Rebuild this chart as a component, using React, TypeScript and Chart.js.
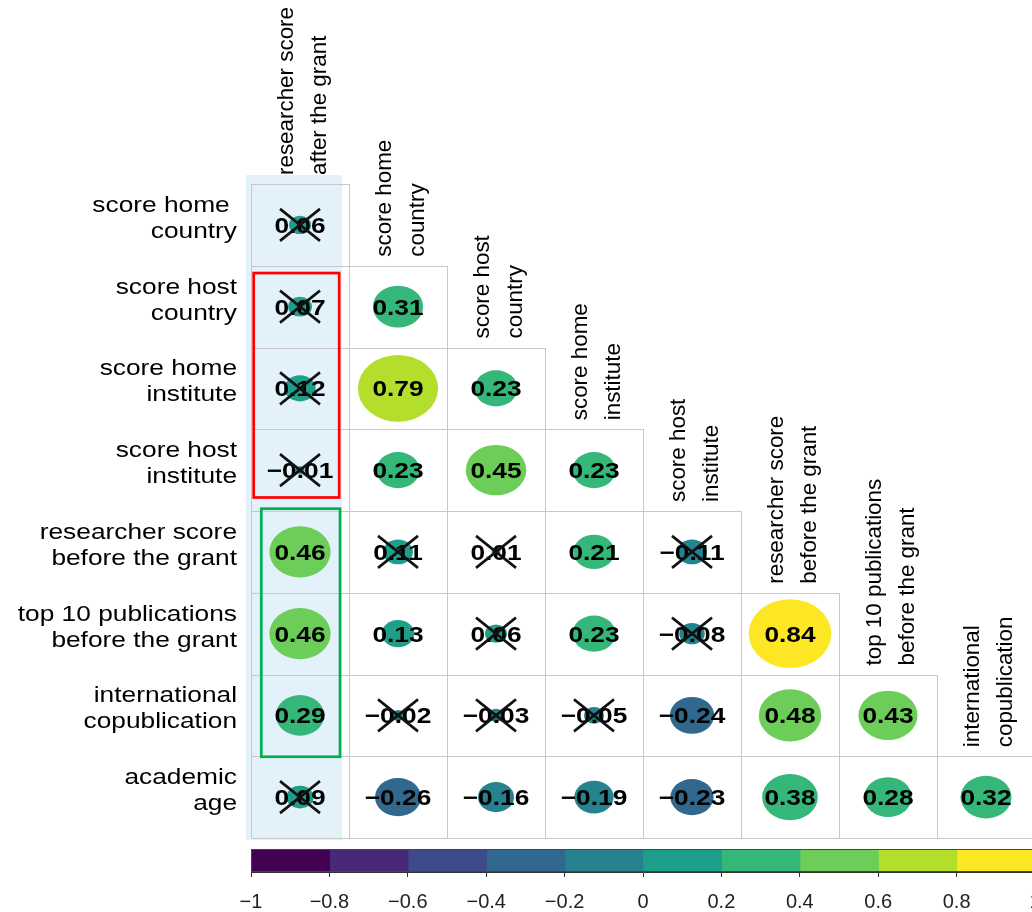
import { useEffect, useRef } from 'react';
import { Chart, registerables } from 'chart.js';

Chart.register(...registerables);

// ---------- data ----------
const rowLabels: string[][] = [
  ['score home ', 'country'],
  ['score host', 'country'],
  ['score home', 'institute'],
  ['score host', 'institute'],
  ['researcher score', 'before the grant'],
  ['top 10 publications', 'before the grant'],
  ['international', 'copublication'],
  ['academic', 'age'],
];

const colLabels: string[][] = [
  ['researcher score', 'after the grant'],
  ['score home', 'country'],
  ['score host', 'country'],
  ['score home', 'institute'],
  ['score host', 'institute'],
  ['researcher score', 'before the grant'],
  ['top 10 publications', 'before the grant'],
  ['international', 'copublication'],
];

// lower-triangle correlations, one list per row
const corrRows: number[][] = [
  [0.06],
  [0.07, 0.31],
  [0.12, 0.79, 0.23],
  [-0.01, 0.23, 0.45, 0.23],
  [0.46, 0.11, 0.01, 0.21, -0.11],
  [0.46, 0.13, 0.06, 0.23, -0.08, 0.84],
  [0.29, -0.02, -0.03, -0.05, -0.24, 0.48, 0.43],
  [0.09, -0.26, -0.16, -0.19, -0.23, 0.38, 0.28, 0.32],
];

// 1 = not significant (crossed out)
const crossedRows: number[][] = [
  [1],
  [1, 0],
  [1, 0, 0],
  [1, 0, 0, 0],
  [0, 1, 1, 0, 1],
  [0, 0, 1, 0, 1, 0],
  [0, 1, 1, 1, 0, 0, 0],
  [1, 0, 0, 0, 0, 0, 0, 0],
];

const colorBreaks: number[] = [-1, -0.8, -0.6, -0.4, -0.2, 0, 0.2, 0.4, 0.6, 0.8, 1];
const binColors: string[] = [
  '#440154', '#482878', '#3E4A89', '#31688E', '#26828E',
  '#1F9E89', '#35B779', '#6DCD59', '#B4DE2C', '#FDE725',
];

// ---------- layout / style ----------
const W = 1045;
const MAIN_H = 845;
const CB_W = 1070;
const CB_TOP = 845;
const CB_H = 67;
const SX = 1.195; // horizontal stretch of the reference
const FONT = "'Liberation Sans', Arial, Helvetica, sans-serif";

const fmtVal = (v: number) => (v < 0 ? '\u2212' : '') + Math.abs(v).toFixed(2);
const fmtTick = (v: number) => {
  const r = Math.round(v * 10) / 10;
  if (r === 0) return '0';
  return (r < 0 ? '\u2212' : '') + String(Math.abs(r));
};
const colorFor = (v: number) => {
  for (let k = 0; k < binColors.length; k++) {
    if (v < colorBreaks[k + 1] || k === binColors.length - 1) return binColors[k];
  }
  return binColors[binColors.length - 1];
};

const corrPlugin = {
  id: 'corrplot',
  beforeDatasetsDraw(chart: any) {
    const { ctx, scales } = chart;
    const X = (v: number) => scales.x.getPixelForValue(v);
    const Y = (v: number) => scales.y.getPixelForValue(v);
    ctx.save();
    // highlighted first column
    const hl = X(0) - 5, hr = X(1) - 7, ht = Y(0) - 9, hb = Y(rowLabels.length) + 2;
    ctx.fillStyle = '#E2F1FA';
    ctx.fillRect(hl, ht, hr - hl, hb - ht);
    // cell grid
    ctx.strokeStyle = '#C8C8C8';
    ctx.lineWidth = 1;
    corrRows.forEach((row, i) => {
      row.forEach((_v, j) => {
        const l = Math.round(X(j)) + 0.5;
        const r = Math.round(X(j + 1)) + 0.5;
        const t = Math.round(Y(i)) + 0.5;
        const b = Math.round(Y(i + 1)) + 0.5;
        ctx.strokeRect(l, t, r - l, b - t);
      });
    });
    ctx.restore();
  },
  afterDatasetsDraw(chart: any) {
    const { ctx, scales } = chart;
    const X = (v: number) => scales.x.getPixelForValue(v);
    const Y = (v: number) => scales.y.getPixelForValue(v);
    const cw = X(1) - X(0);
    const rh = Y(1) - Y(0);
    const meta = chart.getDatasetMeta(0);
    const raw = chart.data.datasets[0].data as any[];
    ctx.save();
    // ellipses
    meta.data.forEach((el: any, k: number) => {
      const p = raw[k];
      const s = 0.92 * Math.sqrt(Math.abs(p.v));
      ctx.beginPath();
      ctx.ellipse(el.x, el.y, (s * cw) / 2, (s * rh) / 2, 0, 0, Math.PI * 2);
      ctx.fillStyle = colorFor(p.v);
      ctx.fill();
    });
    // numbers
    ctx.font = `bold 22px ${FONT}`;
    ctx.textAlign = 'center';
    ctx.textBaseline = 'alphabetic';
    ctx.fillStyle = '#000';
    meta.data.forEach((el: any, k: number) => {
      const p = raw[k];
      ctx.save();
      ctx.translate(el.x, el.y + 8);
      ctx.scale(SX, 1);
      ctx.fillText(fmtVal(p.v), 0, 0);
      ctx.restore();
    });
    // crosses
    ctx.strokeStyle = '#111';
    ctx.lineWidth = 2.6;
    ctx.lineCap = 'butt';
    meta.data.forEach((el: any, k: number) => {
      const p = raw[k];
      if (!p.crossed) return;
      ctx.beginPath();
      ctx.moveTo(el.x - 20, el.y - 16);
      ctx.lineTo(el.x + 20, el.y + 16);
      ctx.moveTo(el.x + 20, el.y - 16);
      ctx.lineTo(el.x - 20, el.y + 16);
      ctx.stroke();
    });
    // red box
    ctx.lineWidth = 2.7;
    ctx.strokeStyle = '#FF0000';
    {
      const l = X(0) + 2.7, r = X(1) - 9.8, t = Y(1) + 7.3, b = Y(4) - 13.5;
      ctx.strokeRect(l, t, r - l, b - t);
    }
    // green box
    ctx.strokeStyle = '#00B050';
    {
      const l = X(0) + 10.3, r = X(1) - 9, t = Y(4) - 2.3, b = Y(7) + 0.5;
      ctx.strokeRect(l, t, r - l, b - t);
    }
    // row labels
    ctx.font = `22px ${FONT}`;
    ctx.fillStyle = '#000';
    ctx.textAlign = 'right';
    rowLabels.forEach((lines, i) => {
      const cy = Y(i + 0.5);
      lines.forEach((line, l) => {
        ctx.save();
        ctx.translate(X(0) - 14, cy + (l === 0 ? -13 : 13));
        ctx.scale(SX, 1);
        ctx.fillText(line, 0, 0);
        ctx.restore();
      });
    });
    // column labels (rotated)
    ctx.font = `22.4px ${FONT}`;
    ctx.textAlign = 'left';
    colLabels.forEach((lines, j) => {
      const cx = X(j + 0.5);
      const bottom = Y(j) - 9;
      lines.forEach((line, l) => {
        ctx.save();
        ctx.translate(cx + (l === 0 ? -7 : 26), bottom);
        ctx.rotate(-Math.PI / 2);
        ctx.fillText(line, 0, 0);
        ctx.restore();
      });
    });
    ctx.restore();
  },
};

const cbBorderPlugin = {
  id: 'cbBorder',
  afterDatasetsDraw(chart: any) {
    const { ctx, chartArea } = chart;
    ctx.save();
    ctx.strokeStyle = '#444';
    ctx.lineWidth = 1;
    const l = Math.round(chartArea.left) + 0.5;
    const r = Math.round(chartArea.right) + 0.5;
    const t = Math.round(chartArea.top) + 0.5;
    const b = Math.round(chartArea.bottom) - 0.5;
    ctx.strokeRect(l, t, r - l, b - t);
    ctx.restore();
  },
};

export default function App() {
  const mainRef = useRef<HTMLCanvasElement | null>(null);
  const cbRef = useRef<HTMLCanvasElement | null>(null);

  useEffect(() => {
    if (!mainRef.current || !cbRef.current) return;

    const points: any[] = [];
    corrRows.forEach((row, i) => {
      row.forEach((v, j) => {
        points.push({ x: j + 0.5, y: i + 0.5, v, crossed: crossedRows[i][j] === 1 });
      });
    });

    const main = new Chart(mainRef.current, {
      type: 'scatter',
      data: {
        datasets: [
          {
            data: points,
            pointRadius: 0,
            pointHoverRadius: 0,
            showLine: false,
          } as any,
        ],
      },
      options: {
        animation: false,
        responsive: false,
        maintainAspectRatio: false,
        events: [],
        layout: { padding: { left: 251, right: W - 1035, top: 184, bottom: MAIN_H - 838 } },
        plugins: { legend: { display: false }, tooltip: { enabled: false } },
        scales: {
          x: { type: 'linear', min: 0, max: colLabels.length, display: false },
          y: { type: 'linear', min: 0, max: rowLabels.length, reverse: true, display: false },
        },
      },
      plugins: [corrPlugin],
    });

    const cbDatasets = binColors.map((c, k) => ({
      data: [[colorBreaks[k], colorBreaks[k + 1]]],
      backgroundColor: c,
      borderWidth: 0,
      inflateAmount: 0.6,
      grouped: false,
      barPercentage: 1,
      categoryPercentage: 1,
    }));

    const cb = new Chart(cbRef.current, {
      type: 'bar',
      data: { labels: [''], datasets: cbDatasets as any },
      options: {
        indexAxis: 'y',
        animation: false,
        responsive: false,
        maintainAspectRatio: false,
        events: [],
        layout: { padding: { left: 251, right: CB_W - 1035, top: 4, bottom: 0 } },
        plugins: { legend: { display: false }, tooltip: { enabled: false } },
        scales: {
          x: {
            type: 'linear',
            min: -1,
            max: 1,
            ticks: {
              stepSize: 0.2,
              padding: 13,
              color: '#222',
              font: { family: FONT, size: 20 },
              maxRotation: 0,
              autoSkip: false,
              callback: (v: any) => fmtTick(Number(v)),
            },
            grid: { drawOnChartArea: false, drawTicks: true, tickLength: 5, color: '#333' },
            border: { display: true, color: '#333' },
            afterFit: (s: any) => {
              s.height = 40;
            },
          },
          y: { display: false },
        },
      },
      plugins: [cbBorderPlugin],
    });

    return () => {
      main.destroy();
      cb.destroy();
    };
  }, []);

  return (
    <div
      style={{
        position: 'fixed',
        left: 0,
        top: 0,
        width: 1032,
        height: 912,
        overflow: 'hidden',
        background: '#ffffff',
      }}
    >
      <canvas
        ref={mainRef}
        width={W}
        height={MAIN_H}
        style={{ position: 'absolute', left: 0, top: 0, width: W, height: MAIN_H }}
      />
      <canvas
        ref={cbRef}
        width={CB_W}
        height={CB_H}
        style={{ position: 'absolute', left: 0, top: CB_TOP, width: CB_W, height: CB_H }}
      />
    </div>
  );
}
